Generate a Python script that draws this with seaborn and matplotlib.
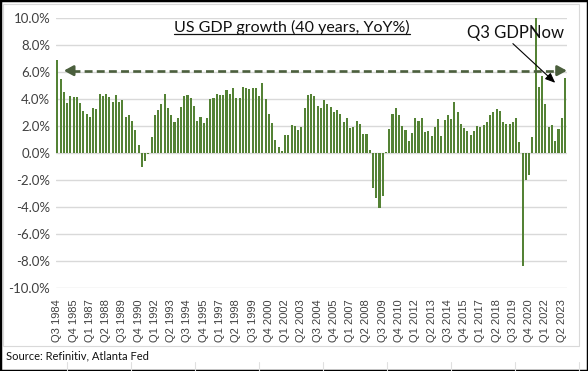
import pandas as pd
import matplotlib.pyplot as plt
import seaborn as sns
from matplotlib.patches import Rectangle
from matplotlib.lines import Line2D

# quarterly US real GDP growth, YoY %, Q3 1984 .. Q3 2023 (last one = GDPNow)
quarters = [f"Q{p.quarter} {p.year}" for p in pd.period_range('1984Q3', '2023Q3', freq='Q')]
growth = [
    6.9, 5.5, 4.5, 3.7, 4.2, 4.15, 4.15, 3.7, 3.1, 2.9,
    2.7, 3.3, 3.25, 4.4, 4.2, 4.4, 4.15, 3.8, 4.3, 3.8,
    3.9, 2.7, 2.8, 2.4, 1.7, 0.6, -1.0, -0.6, -0.1, 1.2,
    2.8, 3.2, 3.6, 4.4, 3.3, 2.8, 2.3, 2.6, 3.4, 4.2,
    4.3, 4.1, 3.5, 2.4, 2.7, 2.2, 2.6, 4.0, 4.1, 4.4,
    4.3, 4.3, 4.7, 4.4, 4.8, 4.1, 4.1, 4.9, 4.8, 4.75,
    4.8, 4.8, 4.2, 5.2, 4.0, 2.9, 2.2, 0.96, 0.44, 0.15,
    1.3, 1.3, 2.1, 2.0, 1.7, 1.9, 3.3, 4.3, 4.4, 4.2,
    3.5, 3.3, 3.9, 3.6, 3.4, 3.0, 3.2, 2.9, 2.3, 2.6,
    1.85, 1.93, 2.37, 2.15, 1.41, 1.41, 0.22, -2.57, -3.31, -4.05,
    -3.19, 0.05, 1.78, 2.89, 3.33, 2.81, 2.0, 1.7, 0.89, 1.48,
    2.59, 2.37, 2.59, 1.56, 1.63, 1.26, 1.93, 2.52, 1.26, 2.44,
    2.81, 2.52, 3.78, 3.04, 2.15, 1.85, 1.63, 1.33, 1.63, 2.0,
    1.93, 2.07, 2.3, 2.81, 3.04, 3.26, 3.11, 2.3, 2.15, 2.15,
    2.3, 2.59, 0.81, -8.4, -2.0, -1.6, 1.2, 12.2, 4.9, 5.7,
    3.6, 1.9, 2.05, 0.87, 1.8, 2.56, 5.54,
]
y_ticks = [-10, -8, -6, -4, -2, 0, 2, 4, 6, 8, 10]

df = pd.DataFrame({'quarter': quarters, 'growth': growth})

sns.set_style('white')
plt.rcParams['font.family'] = ['Lato', 'DejaVu Sans']

fig = plt.figure(figsize=(5.88, 3.71), dpi=100)
ax = fig.add_axes([0.0947, 0.2237, 0.8689, 0.7278])

sns.barplot(data=df, x='quarter', y='growth', color='#548235', width=0.64,
            saturation=1, errorbar=None, linewidth=0, ax=ax, zorder=2)
for bar in ax.patches:
    bar.set_antialiased(False)

ax.set_ylim(-10, 10)
ax.set_xlim(-0.5, len(quarters) - 0.5)
ax.set_yticks(y_ticks)
ax.set_yticklabels([f"{v:.1f}%" for v in y_ticks], fontsize=9.5, color='#404040')
ax.set_xticks(range(0, len(quarters), 5))
ax.set_xticklabels(quarters[::5], rotation=90, fontsize=8, color='#404040',
                   family='Liberation Sans')
ax.tick_params(axis='both', length=0, pad=4)
ax.tick_params(axis='x', pad=8)
ax.yaxis.grid(True, color='#d9d9d9', lw=1, zorder=0)
ax.set_axisbelow(True)
ax.set_xlabel('')
ax.set_ylabel('')
sns.despine(ax=ax, left=True, bottom=True)

# dashed double arrow
dark = '#4b5f3d'
ax.hlines(6.1, 4.5, 154.0, colors=dark, lw=1.9, linestyles=(0, (3, 1.6)), zorder=3)
for tip, tail in [(2.0, 5.0), (156.6, 153.6)]:
    ax.annotate('', xy=(tip, 6.1), xytext=(tail, 6.1),
                arrowprops=dict(arrowstyle='-|>,head_length=0.55,head_width=0.3',
                                color=dark, lw=1.9, shrinkA=0, shrinkB=0), zorder=3)

# GDPNow label + arrow
ax.text(126.0, 8.9, 'Q3 GDPNow', fontsize=12, color='#111111', va='center', ha='left')
ax.annotate('', xy=(153.0, 5.2), xytext=(140.0, 8.1),
            arrowprops=dict(arrowstyle='-|>,head_length=0.6,head_width=0.25',
                            color='black', lw=0.8, shrinkA=0, shrinkB=0), zorder=4)

# underlined title
title = fig.text(0.497, 0.915, 'US GDP growth (40 years, YoY%)', ha='center', va='baseline',
                 fontsize=11.5, color='#111111')
fig.canvas.draw()
bb = title.get_window_extent(fig.canvas.get_renderer())
W, H = fig.get_size_inches() * fig.dpi
fig.lines.append(Line2D([bb.x0 / W, bb.x1 / W], [(bb.y0 - 1) / H + 0.004, (bb.y0 - 1) / H + 0.004],
                        transform=fig.transFigure, color='#111111', lw=0.9))

fig.text(6 / 588, 1 - 356 / 371, 'Source: Refinitiv, Atlanta Fed', fontsize=8,
         color='#111111', va='center', ha='left')

# chart area border, sheet cell lines, outer frame
fig.patches.append(Rectangle((3 / 588, 1 - 346 / 371), 576 / 588, 342 / 371, transform=fig.transFigure,
                             fill=False, edgecolor='#d9d9d9', lw=0.8))
for px in range(67, 580, 64):
    fig.lines.append(Line2D([px / 588, px / 588], [0, 1 - 362 / 371], transform=fig.transFigure,
                            color='#e0e0e0', lw=0.8))
fig.patches.append(Rectangle((0, 0), 1, 1, transform=fig.transFigure, fill=False,
                             edgecolor='black', lw=2.5))

fig.savefig('out.png', dpi=100)
